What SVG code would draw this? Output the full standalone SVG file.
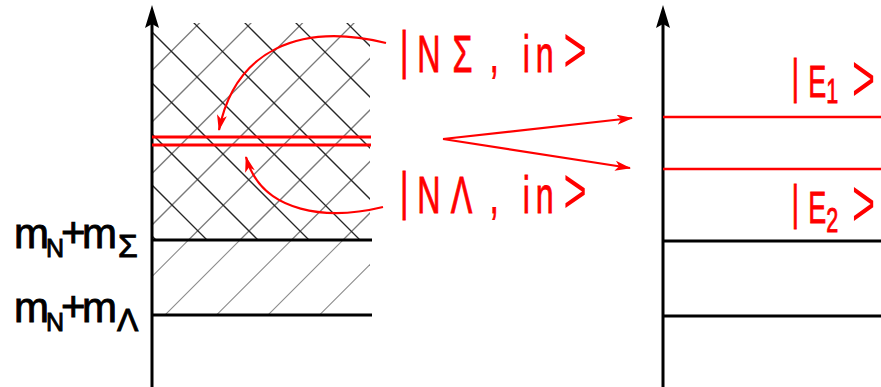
<svg xmlns="http://www.w3.org/2000/svg" width="881" height="387" viewBox="0 0 881 387">
<style>
.ax{stroke:#000;stroke-width:3;fill:none}
.lvl{stroke:#000;stroke-width:3}
.rl{stroke:#ff0000;stroke-width:3}
.hf{stroke:#7a7a7a;stroke-width:1.3}
.hb{stroke:#262626;stroke-width:1.3}
.hl{stroke:#8a8a8a;stroke-width:1.1}
.ra{stroke:#ff0000;stroke-width:2.2;fill:none;marker-end:url(#rh)}
.bt{font-family:"Liberation Sans",Arial,sans-serif;fill:#000;stroke:#000;stroke-width:0.9}
.rt{font-family:"Liberation Sans",Arial,sans-serif;fill:#ff0000;stroke:#ff0000;stroke-width:0.9}
.gt{stroke-width:0}
</style>
<defs>
<marker id="rh" viewBox="0 0 16 10" refX="15" refY="5" markerWidth="16" markerHeight="10" markerUnits="userSpaceOnUse" orient="auto">
<path d="M0,0 L16,5 L0,10 L4,5 Z" fill="#ff0000"/>
</marker>
<clipPath id="cx"><rect x="152" y="23" width="218" height="217"/></clipPath>
<clipPath id="cl"><rect x="152" y="240" width="218" height="75"/></clipPath>
</defs>

<g id="hatch-cross" clip-path="url(#cx)">
<line class="hf" x1="-229" y1="400" x2="171" y2="0"/>
<line class="hf" x1="-177.5" y1="400" x2="222.5" y2="0"/>
<line class="hf" x1="-126" y1="400" x2="274" y2="0"/>
<line class="hf" x1="-74.5" y1="400" x2="325.5" y2="0"/>
<line class="hf" x1="-23" y1="400" x2="377" y2="0"/>
<line class="hf" x1="28.5" y1="400" x2="428.5" y2="0"/>
<line class="hf" x1="80" y1="400" x2="480" y2="0"/>
<line class="hf" x1="131.5" y1="400" x2="531.5" y2="0"/>
<line class="hf" x1="183" y1="400" x2="583" y2="0"/>
<line class="hb" x1="0" y1="-324" x2="500" y2="176"/>
<line class="hb" x1="0" y1="-273" x2="500" y2="227"/>
<line class="hb" x1="0" y1="-222" x2="500" y2="278"/>
<line class="hb" x1="0" y1="-171" x2="500" y2="329"/>
<line class="hb" x1="0" y1="-120" x2="500" y2="380"/>
<line class="hb" x1="0" y1="-69" x2="500" y2="431"/>
<line class="hb" x1="0" y1="-18" x2="500" y2="482"/>
<line class="hb" x1="0" y1="33" x2="500" y2="533"/>
<line class="hb" x1="0" y1="84" x2="500" y2="584"/>
</g>
<g id="hatch-single" clip-path="url(#cl)">
<line class="hl" x1="28.5" y1="400" x2="428.5" y2="0"/>
<line class="hl" x1="80" y1="400" x2="480" y2="0"/>
<line class="hl" x1="131.5" y1="400" x2="531.5" y2="0"/>
<line class="hl" x1="183" y1="400" x2="583" y2="0"/>
<line class="hl" x1="234.5" y1="400" x2="634.5" y2="0"/>
<line class="hl" x1="286" y1="400" x2="686" y2="0"/>
</g>

<g id="left-axis">
<line class="ax" x1="152" y1="387" x2="152" y2="22"/>
<path d="M152,5 L159,28 L152,24 L145,28 Z" fill="#000"/>
</g>
<g id="right-axis">
<line class="ax" x1="663" y1="387" x2="663" y2="22"/>
<path d="M663,5 L670,28 L663,24 L656,28 Z" fill="#000"/>
</g>

<g id="level-sigma">
<line class="lvl" x1="152" y1="240" x2="372" y2="240"/>
<text class="bt"><tspan x="14" y="248" font-size="42">m</tspan><tspan x="46" y="257" font-size="25">N</tspan><tspan x="61" y="247" font-size="42">+</tspan><tspan x="82" y="248" font-size="42">m</tspan><tspan x="118" y="257" font-size="32">Σ</tspan></text>
</g>
<g id="level-lambda">
<line class="lvl" x1="152" y1="315" x2="372" y2="315"/>
<text class="bt"><tspan x="14" y="321.5" font-size="42">m</tspan><tspan x="46" y="330.5" font-size="25">N</tspan><tspan x="61" y="320.5" font-size="42">+</tspan><tspan x="82" y="321.5" font-size="42">m</tspan><tspan x="117" y="331" font-size="32">Λ</tspan></text>
</g>

<g id="in-states">
<line class="rl" x1="152" y1="137" x2="371" y2="137"/>
<line class="rl" x1="152" y1="145" x2="371" y2="145"/>
</g>

<g id="label-NSigma">
<text class="rt" transform="scale(0.62,1)" font-size="52"><tspan x="645" y="68">|</tspan><tspan x="673 730 790 815 843 864" y="72">NΣ, in</tspan><tspan class="gt" x="909" y="72" font-size="64">&gt;</tspan></text>
</g>
<g id="label-NLambda">
<text class="rt" transform="scale(0.62,1)" font-size="52"><tspan x="645" y="209">|</tspan><tspan x="673 727 790 815 843 864" y="213">NΛ, in</tspan><tspan class="gt" x="909" y="213" font-size="64">&gt;</tspan></text>
</g>

<g id="E1">
<line class="rl" x1="663" y1="117" x2="881" y2="117" style="stroke-width:2.6"/>
<text class="rt" transform="scale(0.6,1)"><tspan x="1319" y="93" font-size="49">|</tspan><tspan x="1347" y="97" font-size="45">E</tspan><tspan x="1377" y="103" font-size="36">1</tspan><tspan class="gt" x="1420" y="101" font-size="66">&gt;</tspan></text>
</g>
<g id="E2">
<line class="rl" x1="663" y1="169" x2="881" y2="169" style="stroke-width:2.6"/>
<text class="rt" transform="scale(0.6,1)"><tspan x="1319" y="219" font-size="49">|</tspan><tspan x="1347" y="223" font-size="45">E</tspan><tspan x="1377" y="232" font-size="36">2</tspan><tspan class="gt" x="1420" y="226" font-size="66">&gt;</tspan></text>
</g>

<g id="right-levels">
<line class="lvl" x1="663" y1="241" x2="881" y2="241"/>
<line class="lvl" x1="663" y1="316" x2="881" y2="316"/>
</g>

<g id="connectors">
<path class="ra" d="M386,43 C300,22 235,50 219,130"/>
<path class="ra" d="M383,207 C330,220 262,215 246,157"/>
<path class="ra" d="M443,139 L632,118"/>
<path class="ra" d="M443,139 L630,168"/>
</g>
</svg>
